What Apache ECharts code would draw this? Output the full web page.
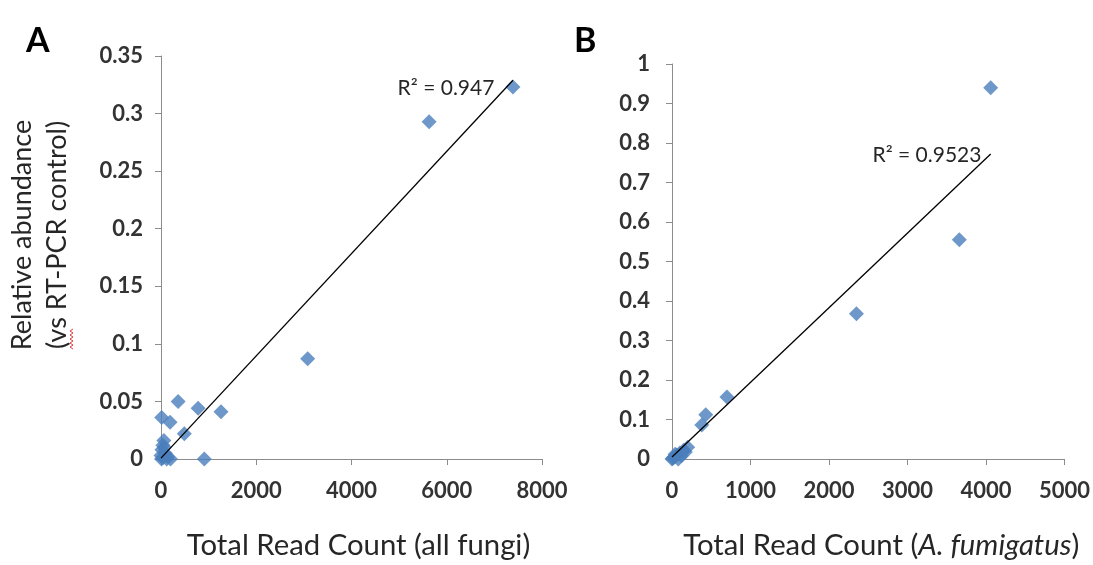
<!DOCTYPE html>
<html><head><meta charset="utf-8">
<script src="https://cdn.jsdelivr.net/npm/echarts@6/dist/echarts.min.js"></script>
<style>html,body{margin:0;padding:0;background:#fff}#c{width:1093px;height:565px}</style>
</head><body><div id="c"></div>
<script>
// Panel A: all fungi
const fungiReads = [7390, 5630, 3080, 1260, 780, 360, 490, 910, 15, 190, 60, 40, 20, 90, 140, 40, 200, 10, 120, 70, 0];
const fungiAbund = [0.323, 0.293, 0.087, 0.041, 0.044, 0.050, 0.022, 0.000, 0.036, 0.032, 0.016, 0.012, 0.008, 0.005, 0.002, 0.001, 0.000, 0.000, 0.000, 0.010, 0.003];
// Panel B: A. fumigatus
const afumReads = [4060, 3660, 2350, 700, 430, 380, 200, 150, 100, 60, 30, 10, 0, 120, 80, 40, 170];
const afumAbund = [0.940, 0.555, 0.368, 0.157, 0.112, 0.086, 0.030, 0.022, 0.015, 0.010, 0.005, 0.002, 0.000, 0.008, 0.000, 0.012, 0.018];
// Linear trendlines [slope, intercept] and R² labels
const trendA = [4.44e-5, 0.0008];
const trendB = [1.89e-4, 0.005];
const r2A = 'R² = 0.947';
const r2B = 'R² = 0.9523';
// Axis scales
const xScaleA = {min: 0, max: 8000, interval: 2000};
const yScaleA = {min: 0, max: 0.35, interval: 0.05};
const xScaleB = {min: 0, max: 5000, interval: 1000};
const yScaleB = {min: 0, max: 1, interval: 0.1};

const FONT = 'Lato';
const BLUE = '#4a7ebb';
const AXIS = '#8c8c8c';
const TXT = '#333';
const TITLE = 29.3;

function pts(xs, ys) { return xs.map((x, i) => [x, ys[i]]); }
function trend(t, xs) {
  const lo = Math.min(...xs), hi = Math.max(...xs);
  return [[lo, t[0] * lo + t[1]], [hi, t[0] * hi + t[1]]];
}
function xAxis(idx, sc, name, gap, margin, padLeft, rich) {
  return {
    type: 'value', gridIndex: idx, min: sc.min, max: sc.max, interval: sc.interval,
    splitLine: {show: false},
    axisLine: {lineStyle: {color: AXIS, width: 1}},
    axisTick: {length: 6, lineStyle: {color: AXIS}},
    axisLabel: {color: TXT, fontFamily: FONT, fontSize: 22, fontWeight: 'bold', margin: margin, formatter: v => String(v)},
    name: name, nameLocation: 'middle', nameGap: gap,
    nameTextStyle: {color: '#262626', fontFamily: FONT, fontSize: TITLE, rich: rich, padding: [0, 0, 0, padLeft]}
  };
}
function yAxis(idx, sc, margin) {
  return {
    type: 'value', gridIndex: idx, min: sc.min, max: sc.max, interval: sc.interval,
    splitLine: {show: false},
    axisLine: {show: true, lineStyle: {color: AXIS, width: 1}},
    axisTick: {show: true, length: 6, lineStyle: {color: AXIS}},
    axisLabel: {color: TXT, fontFamily: FONT, fontSize: 22, fontWeight: 'bold', margin: margin}
  };
}
// red spell-check squiggle under "vs" (rotated text)
const squiggle = [];
for (let k = 0; k <= 10; k++) squiggle.push([k % 2 ? 70 : 73, 349 - k * 2]);

const chart = echarts.init(document.getElementById('c'), null, {renderer: 'canvas'});
chart.setOption({
  animation: false,
  backgroundColor: '#fff',
  grid: [
    {left: 161, top: 56, width: 381, height: 404},
    {left: 672, top: 64, width: 397, height: 401}
  ],
  xAxis: [
    xAxis(0, xScaleA, 'Total Read Count (all fungi)', 72, 21, 14),
    xAxis(1, xScaleB, '{n|Total Read Count (}{i|A. fumigatus}{n|)}', 72, 21, 26, {
      n: {fontFamily: FONT, fontSize: TITLE, color: '#262626'},
      i: {fontFamily: FONT, fontSize: TITLE, color: '#262626', fontStyle: 'italic'}
    })
  ],
  yAxis: [yAxis(0, yScaleA, 18), yAxis(1, yScaleB, 22)],
  series: [
    {type: 'scatter', xAxisIndex: 0, yAxisIndex: 0, data: pts(fungiReads, fungiAbund),
     symbol: 'diamond', symbolSize: 15, itemStyle: {color: BLUE}, z: 2},
    {type: 'line', xAxisIndex: 0, yAxisIndex: 0, data: trend(trendA, fungiReads),
     symbol: 'none', lineStyle: {color: '#000', width: 1.3}, z: 3},
    {type: 'scatter', xAxisIndex: 1, yAxisIndex: 1, data: pts(afumReads, afumAbund),
     symbol: 'diamond', symbolSize: 15, itemStyle: {color: BLUE}, z: 2},
    {type: 'line', xAxisIndex: 1, yAxisIndex: 1, data: trend(trendB, afumReads),
     symbol: 'none', lineStyle: {color: '#000', width: 1.3}, z: 3}
  ],
  graphic: [
    {type: 'text', left: 26, top: 24, style: {text: 'A', fontFamily: FONT, fontSize: 34, fontWeight: 'bold', fill: '#000'}},
    {type: 'text', left: 574, top: 24, style: {text: 'B', fontFamily: FONT, fontSize: 34, fontWeight: 'bold', fill: '#000'}},
    {type: 'text', x: 40, y: 235, rotation: Math.PI / 2,
     style: {text: 'Relative abundance\n(vs RT-PCR control)', fontFamily: FONT, fontSize: 27, lineHeight: 35,
             fill: '#262626', align: 'center', verticalAlign: 'middle'}},
    {type: 'polyline', shape: {points: squiggle}, style: {stroke: '#e03c3c', lineWidth: 1, fill: null}},
    {type: 'text', x: 446, y: 88, style: {text: r2A, fontFamily: FONT, fontSize: 21, fill: '#262626', align: 'center', verticalAlign: 'middle'}},
    {type: 'text', x: 927, y: 155, style: {text: r2B, fontFamily: FONT, fontSize: 21, fill: '#262626', align: 'center', verticalAlign: 'middle'}}
  ]
});
</script></body></html>
